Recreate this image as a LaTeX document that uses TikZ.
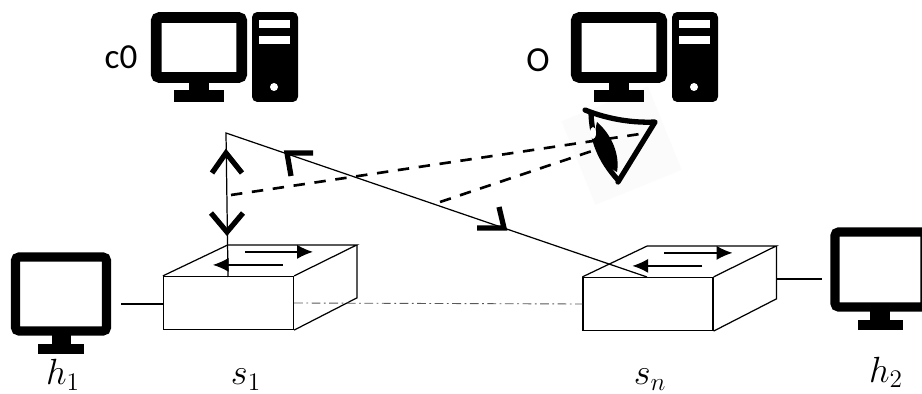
\documentclass[tikz,border=0pt]{standalone}
\usepackage{fontspec}
\setmainfont{Carlito}
\usepackage{amsmath}
\usetikzlibrary{arrows.meta, calc}
\tikzset{
  screenbox/.style={draw, rectangle, rounded corners=2pt, fill=white, inner sep=0pt},
  towerbox/.style={fill=black, rectangle, rounded corners=3pt, inner sep=0pt, minimum width=0.92cm, minimum height=1.8cm},
  switchbox/.style={draw, rectangle, line width=0.7pt, fill=white, inner sep=0pt, minimum width=2.6cm, minimum height=1.06cm},
  wire/.style={line width=0.7pt},
  flow/.style={line width=0.7pt, -{Latex[length=9pt, width=8pt]}},
  chevron/.style={line width=3pt},
  sight/.style={line width=1.5pt, dash pattern=on 6.5pt off 5.5pt},
  pen/.style={line width=3pt, line cap=round, line join=round},
  lab/.style={font=\fontsize{20}{24}\selectfont, inner sep=0pt},
  mathlab/.style={font=\fontsize{22}{26}\selectfont, inner sep=0pt, anchor=base}
}
\begin{document}
\begin{tikzpicture}[x=0.02cm, y=-0.02cm]
  \clip (0, 0) rectangle (922, 394);
  \fill[white] (0, 0) rectangle (922, 394);

  % Faint patch behind the eye
  \fill[black!1.5, rotate around={22:(623,145)}] (575, 100) rectangle (668, 190);

  % Controller and observer machines
  \foreach \pc/\px in {c/199, o/619} {
    \fill (\px-10, 80) rectangle (\px+10, 92);
    \fill (\px-25, 90) rectangle (\px+25, 102);
    \node[screenbox, line width=6.2pt, minimum width=1.71cm, minimum height=1.2cm] (\pc) at (\px, 47.5) {};
    \node[towerbox] (\pc tower) at (\px+76, 57) {};
    \fill[white] (\px+60, 20) rectangle (\px+91, 28);
    \fill[white] (\px+60, 36) rectangle (\px+91, 44);
    \fill[white] (\px+75, 87) circle (4);
  }
  \node[lab] (c0lab) at (121, 57) {c0};
  \node[lab] (olab) at (538, 60) {O};

  % Switches
  \foreach \sw/\px/\py in {s1/228.5/303, sn/648/304} {
    \node[switchbox] (\sw) at (\px, \py) {};
    \draw[wire] (\sw.north west) -- ++(65, -31) -- ++(129, 0) -- ($(\sw.north east)$);
    \draw[wire] ($(\sw.north west)+(194, -31)$) -- ++(0, 53) -- (\sw.south east);
    \draw[flow] ($(\sw.north west)+(82, -24)$) -- ++(68, 0);
    \draw[flow] ($(\sw.north west)+(120, -11)$) -- ++(-70, 0);
  }

  % Hosts
  \fill (52, 330) rectangle (71, 346);
  \fill (38, 344) rectangle (84, 354);
  \node[screenbox, line width=5.2pt, minimum width=1.82cm, minimum height=1.48cm] (h1) at (61, 294) {};
  \fill (870, 306) rectangle (890, 321);
  \fill (858, 320) rectangle (903, 330);
  \node[screenbox, line width=5.2pt, minimum width=1.8cm, minimum height=1.5cm] (h2) at (880, 269.5) {};

  % Links
  \coordinate (h1port) at (121, 304);
  \coordinate (h2port) at (822, 279);
  \draw[wire] (h1port) -- (h1port -| s1.west);
  \draw[wire] (777, 279) -- (h2port);
  \draw[line width=0.5pt, black!65, dash pattern=on 5pt off 2pt on 1pt off 2pt] (s1.east) -- (sn.west);

  % Control channels
  \coordinate (apex) at (226, 133);
  \coordinate (s1top) at (228, 277);
  \coordinate (sntop) at (647, 277);
  \draw[wire] (s1top) -- (apex) -- (sntop);
  \draw[chevron] (212, 173) -- (226, 153) -- (242, 173);
  \draw[chevron] (211, 213) -- (227, 232) -- (243, 213);
  \draw[chevron] (313, 153) -- (287, 153) -- (291, 176);
  \draw[chevron] (477, 228) -- (504, 228) -- (499, 207);

  % Eye
  \coordinate (eye1) at (640, 134);
  \coordinate (eye2) at (595, 150);
  \draw[pen] (585, 110) .. controls (610, 120) and (635, 123) .. (655, 122) -- (618, 182);
  \draw[pen] (591, 113) .. controls (592, 140) and (600, 160) .. (618, 180);
  \fill (597, 122) .. controls (612, 135) and (620, 155) .. (617, 172)
    .. controls (602, 165) and (592, 140) .. (597, 122);
  \fill[white] (593, 133) ellipse (3 and 6);
  \draw[sight] (231, 195) -- (eye1);
  \draw[sight] (440, 202) -- (eye2);

  % Labels
  \node[mathlab] (h1lab) at (63, 385) {$h_1$};
  \node[mathlab] (s1lab) at (246, 385) {$s_1$};
  \node[mathlab] (snlab) at (650, 385) {$s_n$};
  \node[mathlab] (h2lab) at (886, 382) {$h_2$};
\end{tikzpicture}
\end{document}
